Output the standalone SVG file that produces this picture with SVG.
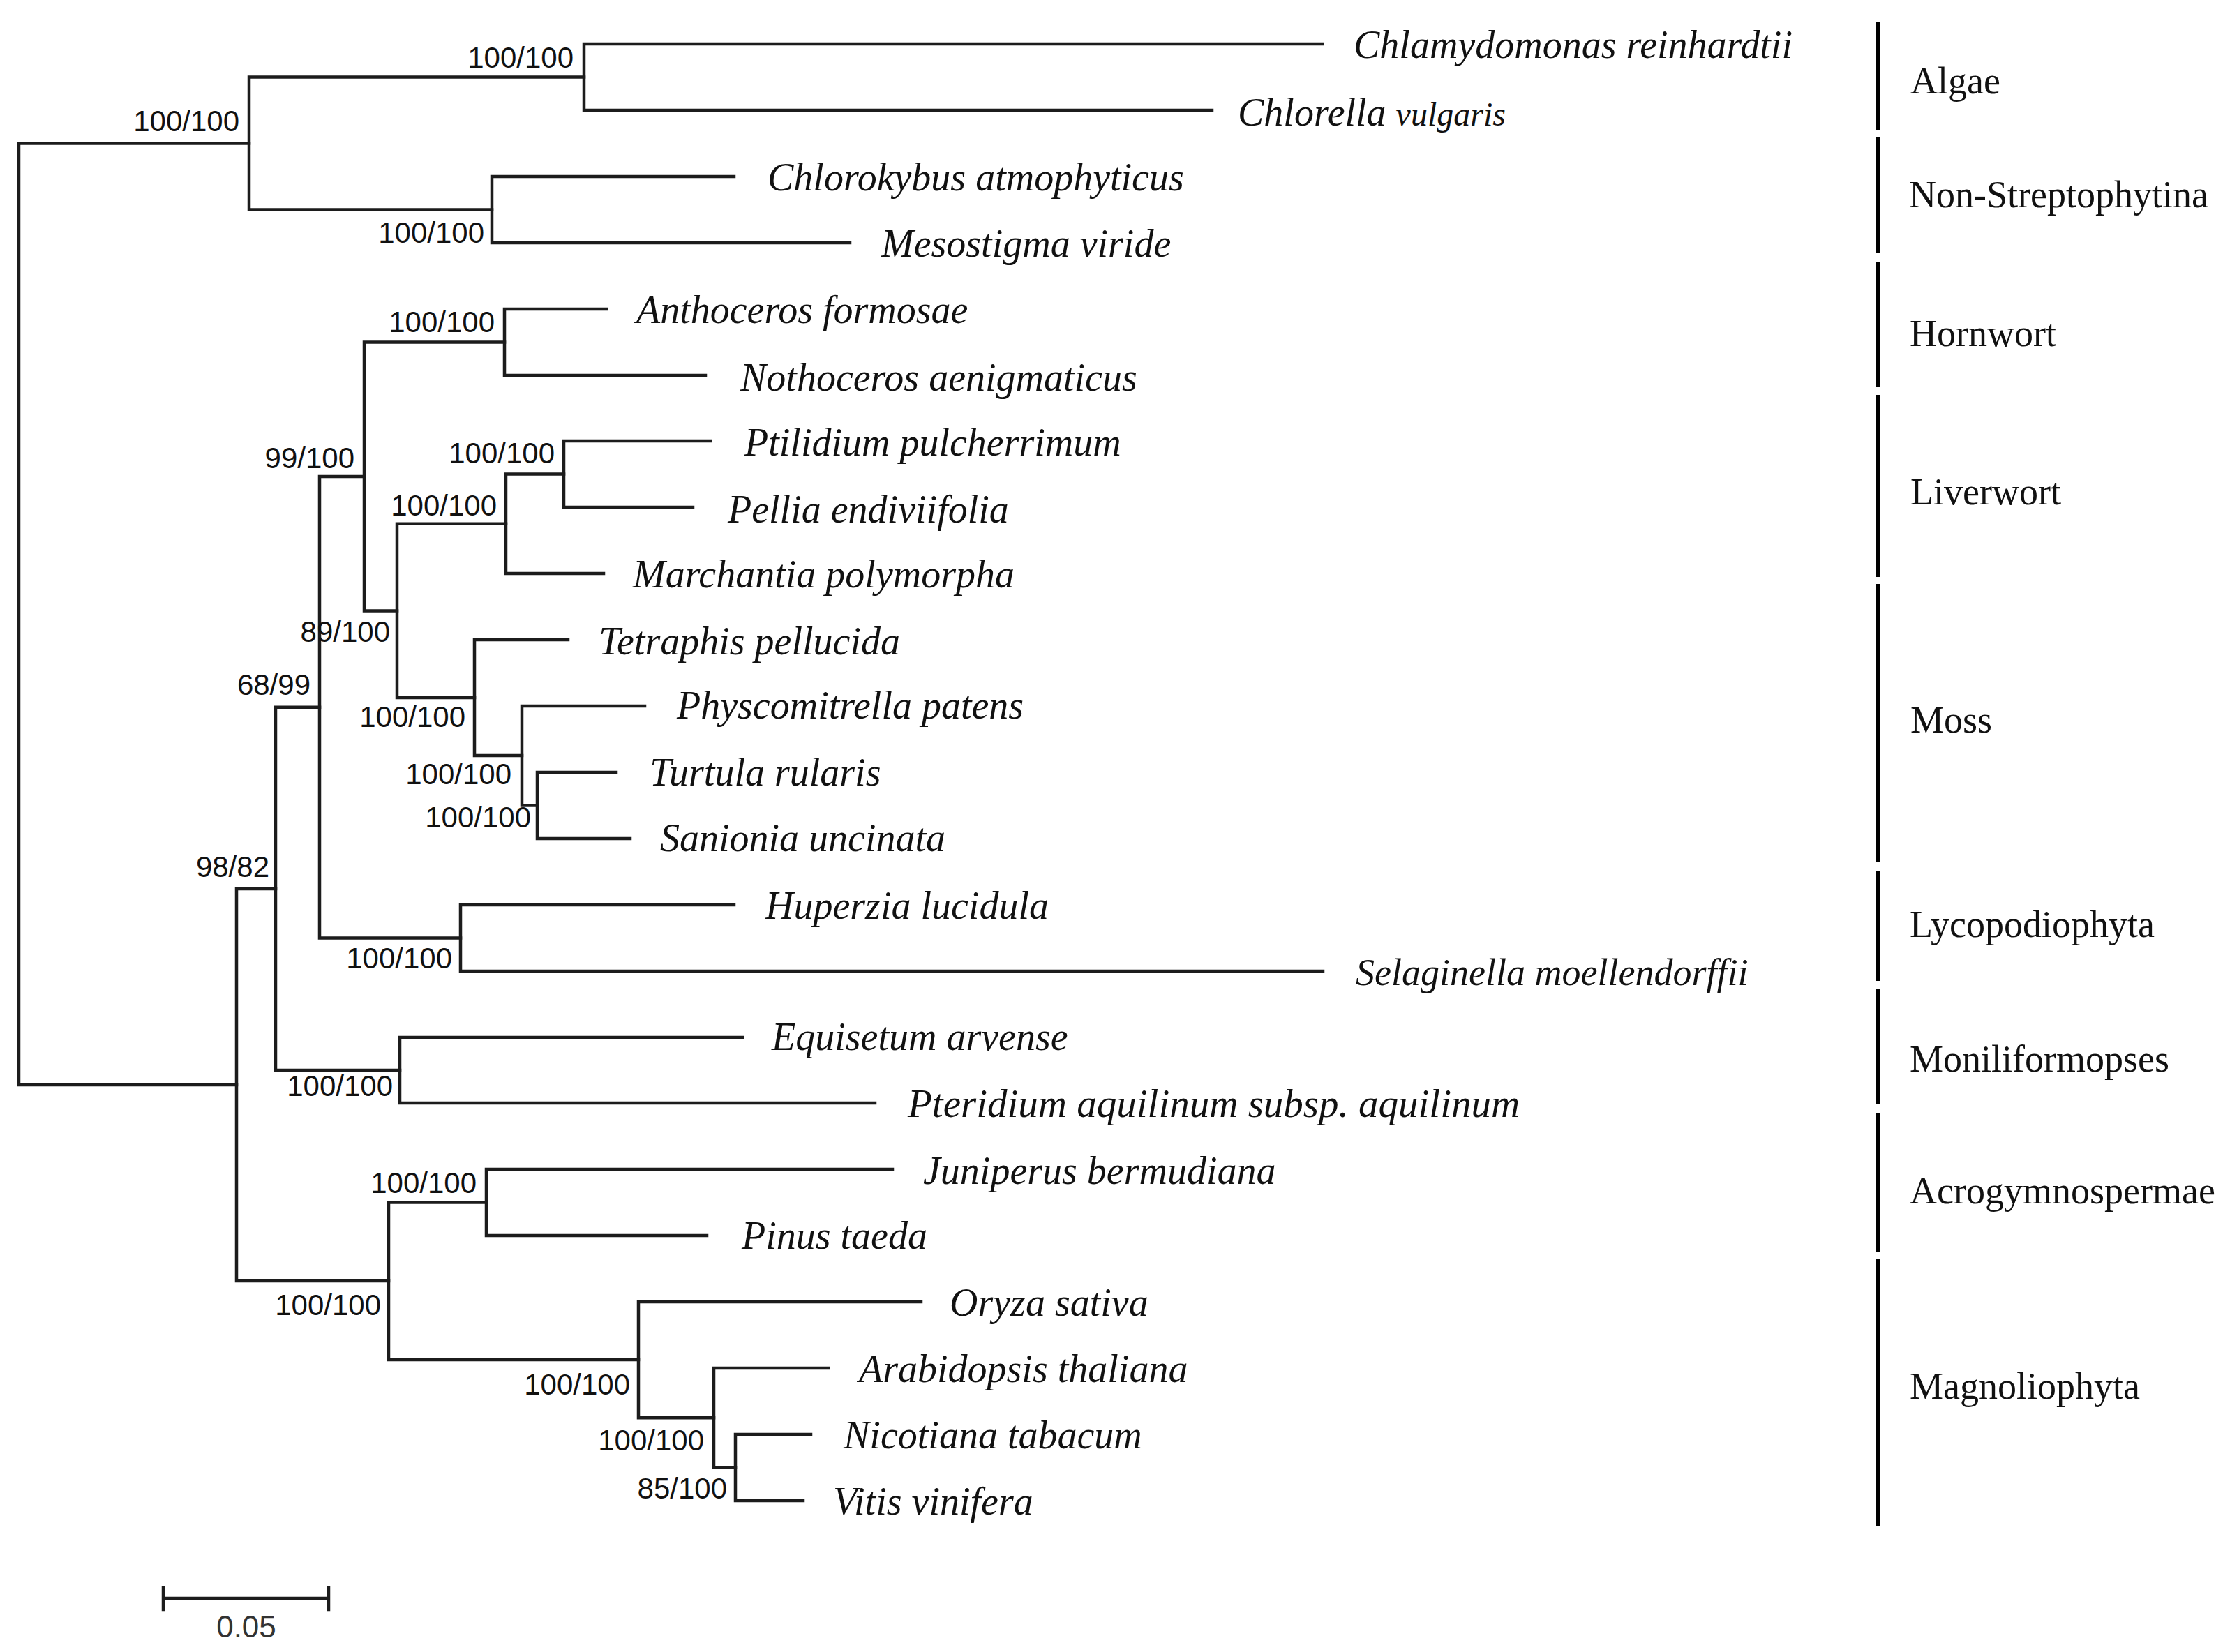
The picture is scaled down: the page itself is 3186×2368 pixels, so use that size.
<svg xmlns="http://www.w3.org/2000/svg" width="3186" height="2368" viewBox="0 0 3186 2368">
<style>
.br{stroke:#1c1c1c;stroke-width:4.5;fill:none;stroke-linecap:square}
.tx{font-family:"Liberation Serif",serif;font-style:italic;font-size:56px;fill:#111}
.bs{font-family:"Liberation Sans",Arial,sans-serif;font-size:42px;fill:#111;text-anchor:end}
.grp{font-family:"Liberation Serif",serif;font-size:54px;fill:#111}
.bar{stroke:#000;stroke-width:6}
</style>
<rect x="0" y="0" width="3186" height="2368" fill="#fff"/>
<g id="connectors">
<path class="br" d="M27,205.5V1555 M27,205.5H357 M27,1555H339"/>
<path class="br" d="M357,110.5V300.5 M357,110.5H837 M357,300.5H705"/>
<path class="br" d="M837,63V158 M837,63H1895 M837,158H1737"/>
<path class="br" d="M705,253V348 M705,253H1052 M705,348H1218"/>
<path class="br" d="M339,1274V1836 M339,1274H395 M339,1836H557"/>
<path class="br" d="M395,1013.75V1534 M395,1013.75H458 M395,1534H573"/>
<path class="br" d="M458,683V1344.5 M458,683H522 M458,1344.5H660"/>
<path class="br" d="M522,490.5V875.4 M522,490.5H723 M522,875.4H569"/>
<path class="br" d="M723,443V538 M723,443H869 M723,538H1011"/>
<path class="br" d="M569,750.75V1000 M569,750.75H725 M569,1000H680"/>
<path class="br" d="M725,679.5V822 M725,679.5H808 M725,822H865"/>
<path class="br" d="M808,632V727 M808,632H1018 M808,727H993"/>
<path class="br" d="M680,917V1083 M680,917H814 M680,1083H748"/>
<path class="br" d="M748,1012V1154.5 M748,1012H924 M748,1154.5H770"/>
<path class="br" d="M770,1107V1202 M770,1107H883 M770,1202H903"/>
<path class="br" d="M660,1297V1392 M660,1297H1052 M660,1392H1896"/>
<path class="br" d="M573,1487V1581 M573,1487H1064 M573,1581H1254"/>
<path class="br" d="M557,1723.5V1949.1 M557,1723.5H697 M557,1949.1H915"/>
<path class="br" d="M697,1676V1771 M697,1676H1279 M697,1771H1013"/>
<path class="br" d="M915,1866V2032.25 M915,1866H1320 M915,2032.25H1023"/>
<path class="br" d="M1023,1961V2103.5 M1023,1961H1187 M1023,2103.5H1054"/>
<path class="br" d="M1054,2056V2151 M1054,2056H1162 M1054,2151H1151"/>
</g>
<g id="support-labels">
<g id="n-A"><text class="bs" x="343" y="188">100/100</text></g>
<g id="n-B"><text class="bs" x="822" y="97">100/100</text></g>
<g id="n-C"><text class="bs" x="694" y="348">100/100</text></g>
<g id="n-H"><text class="bs" x="709" y="476">100/100</text></g>
<g id="n-Bryo"><text class="bs" x="508" y="671">99/100</text></g>
<g id="n-L1"><text class="bs" x="795" y="664">100/100</text></g>
<g id="n-L2"><text class="bs" x="712" y="739">100/100</text></g>
<g id="n-LM"><text class="bs" x="559" y="920">89/100</text></g>
<g id="n-M1"><text class="bs" x="667" y="1042">100/100</text></g>
<g id="n-M2"><text class="bs" x="733" y="1124">100/100</text></g>
<g id="n-M3"><text class="bs" x="761" y="1186">100/100</text></g>
<g id="n-E1"><text class="bs" x="445" y="996">68/99</text></g>
<g id="n-E"><text class="bs" x="386" y="1257">98/82</text></g>
<g id="n-Ly"><text class="bs" x="648" y="1388">100/100</text></g>
<g id="n-Mo"><text class="bs" x="563" y="1571">100/100</text></g>
<g id="n-Acro"><text class="bs" x="683" y="1710">100/100</text></g>
<g id="n-S"><text class="bs" x="546" y="1885">100/100</text></g>
<g id="n-N1"><text class="bs" x="903" y="1999">100/100</text></g>
<g id="n-N2"><text class="bs" x="1009" y="2079">100/100</text></g>
<g id="n-N3"><text class="bs" x="1042" y="2148">85/100</text></g>
</g>
<g id="taxa">
<g id="t1"><text class="tx" x="1940" y="83">Chlamydomonas reinhardtii</text></g>
<g id="t2"><text class="tx" x="1774" y="180">Chlorella <tspan style="font-size:48px">vulgaris</tspan></text></g>
<g id="t3"><text class="tx" x="1100" y="273">Chlorokybus atmophyticus</text></g>
<g id="t4"><text class="tx" x="1263" y="368">Mesostigma viride</text></g>
<g id="t5"><text class="tx" x="912" y="463">Anthoceros formosae</text></g>
<g id="t6"><text class="tx" x="1061" y="560">Nothoceros aenigmaticus</text></g>
<g id="t7"><text class="tx" x="1067" y="653">Ptilidium pulcherrimum</text></g>
<g id="t8"><text class="tx" x="1043" y="749">Pellia endiviifolia</text></g>
<g id="t9"><text class="tx" x="907" y="842">Marchantia polymorpha</text></g>
<g id="t10"><text class="tx" x="858" y="938">Tetraphis pellucida</text></g>
<g id="t11"><text class="tx" x="970" y="1030">Physcomitrella patens</text></g>
<g id="t12"><text class="tx" x="931" y="1126">Turtula rularis</text></g>
<g id="t13"><text class="tx" x="946" y="1220">Sanionia uncinata</text></g>
<g id="t14"><text class="tx" x="1097" y="1317">Huperzia lucidula</text></g>
<g id="t15"><text class="tx" x="1943" y="1412" style="font-size:54px">Selaginella moellendorffii</text></g>
<g id="t16"><text class="tx" x="1106" y="1505">Equisetum arvense</text></g>
<g id="t17"><text class="tx" x="1301" y="1601" style="font-size:57px">Pteridium aquilinum subsp. aquilinum</text></g>
<g id="t18"><text class="tx" x="1323" y="1697">Juniperus bermudiana</text></g>
<g id="t19"><text class="tx" x="1063" y="1790">Pinus taeda</text></g>
<g id="t20"><text class="tx" x="1361" y="1886">Oryza sativa</text></g>
<g id="t21"><text class="tx" x="1231" y="1981">Arabidopsis thaliana</text></g>
<g id="t22"><text class="tx" x="1209" y="2076">Nicotiana tabacum</text></g>
<g id="t23"><text class="tx" x="1194" y="2171">Vitis vinifera</text></g>
</g>
<g id="groups">
<g id="g-algae"><line class="bar" x1="2692" y1="32" x2="2692" y2="186"/><text class="grp" x="2738" y="134">Algae</text></g>
<g id="g-nonstrep"><line class="bar" x1="2692" y1="196" x2="2692" y2="362"/><text class="grp" x="2736" y="297">Non-Streptophytina</text></g>
<g id="g-hornwort"><line class="bar" x1="2692" y1="375" x2="2692" y2="555"/><text class="grp" x="2737" y="496">Hornwort</text></g>
<g id="g-liverwort"><line class="bar" x1="2692" y1="566" x2="2692" y2="827"/><text class="grp" x="2738" y="723">Liverwort</text></g>
<g id="g-moss"><line class="bar" x1="2692" y1="837" x2="2692" y2="1235"/><text class="grp" x="2738" y="1050">Moss</text></g>
<g id="g-lyco"><line class="bar" x1="2692" y1="1248" x2="2692" y2="1406"/><text class="grp" x="2737" y="1343">Lycopodiophyta</text></g>
<g id="g-monil"><line class="bar" x1="2692" y1="1418" x2="2692" y2="1583"/><text class="grp" x="2737" y="1536">Moniliformopses</text></g>
<g id="g-acro"><line class="bar" x1="2692" y1="1595" x2="2692" y2="1794"/><text class="grp" x="2737" y="1725">Acrogymnospermae</text></g>
<g id="g-magno"><line class="bar" x1="2692" y1="1804" x2="2692" y2="2188"/><text class="grp" x="2737" y="2005">Magnoliophyta</text></g>
</g>
<g id="scale-bar">
<path class="br" d="M234,2291H471 M234,2276V2307 M471,2276V2307"/>
<text x="353" y="2347" style="font-family:'Liberation Sans',Arial,sans-serif;font-size:44px;fill:#333" text-anchor="middle">0.05</text>
</g>
</svg>
